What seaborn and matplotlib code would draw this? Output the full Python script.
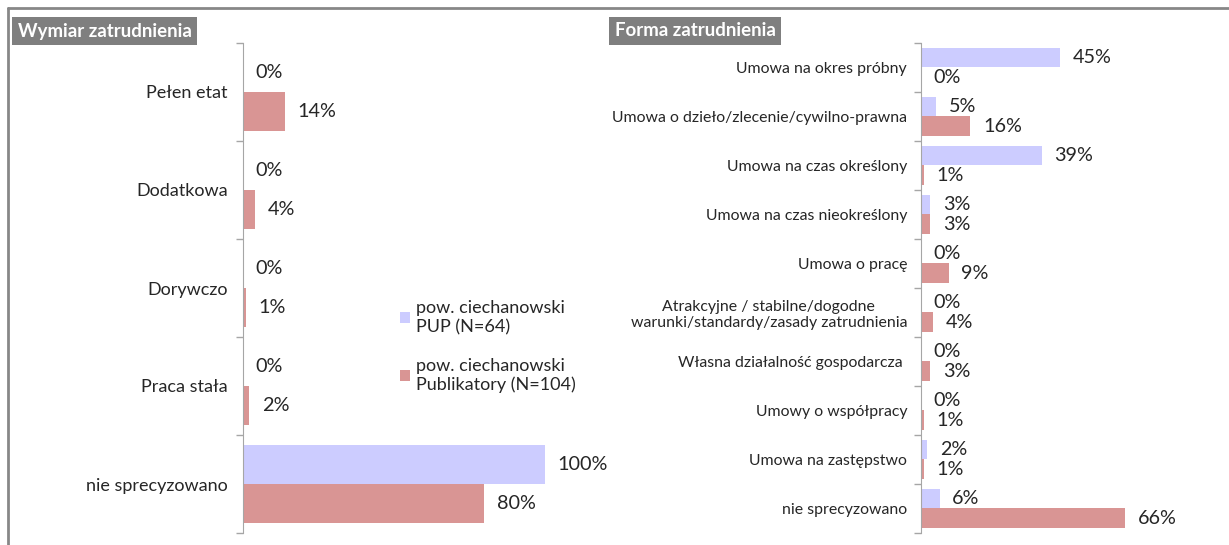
import matplotlib
matplotlib.use("Agg")
import matplotlib.pyplot as plt
from matplotlib.lines import Line2D
from matplotlib.patches import Patch
import seaborn as sns
import pandas as pd

# --- data ---
series = ["pow. ciechanowski\nPUP (N=64)", "pow. ciechanowski\nPublikatory (N=104)"]
colors = ["#CCCCFF", "#D99594"]

wymiar_cats = ["Pełen etat", "Dodatkowa", "Dorywczo", "Praca stała", "nie sprecyzowano"]
wymiar_pup = [0, 0, 0, 0, 100]
wymiar_pub = [14, 4, 1, 2, 80]

forma_cats = [
    "Umowa na okres próbny",
    "Umowa o dzieło/zlecenie/cywilno-prawna",
    "Umowa na czas określony",
    "Umowa na czas nieokreślony",
    "Umowa o pracę",
    "Atrakcyjne / stabilne/dogodne\nwarunki/standardy/zasady zatrudnienia",
    "Własna działalność gospodarcza ",
    "Umowy o współpracy",
    "Umowa na zastępstwo",
    "nie sprecyzowano",
]
forma_pup = [45, 5, 39, 3, 0, 0, 0, 0, 2, 6]
forma_pub = [0, 16, 1, 3, 9, 4, 3, 1, 1, 66]


def long_df(cats, a, b):
    rows = []
    for c, v in zip(cats, a):
        rows.append((c, series[0], v))
    for c, v in zip(cats, b):
        rows.append((c, series[1], v))
    return pd.DataFrame(rows, columns=["cat", "series", "val"])


sns.set_style("white")
plt.rcParams["font.family"] = ["Lato", "DejaVu Sans"]

fig = plt.figure(figsize=(12.29, 5.45), dpi=100)
W, H = 1229, 545
SPINE = "#A6A6A6"
TXT = "#262626"


def panel(rect, cats, a, b, xmax, lab_fs, val_fs, pad):
    ax = fig.add_axes(rect)
    df = long_df(cats, a, b)
    sns.barplot(data=df, y="cat", x="val", hue="series", orient="h",
                palette=colors, saturation=1, width=0.8, order=cats,
                hue_order=series, linewidth=0, ax=ax, legend=False)
    for cont in ax.containers:
        vals = cont.datavalues
        ax.bar_label(cont, labels=[f"{v:.0f}%" for v in vals], padding=9,
                     fontsize=val_fs, color=TXT)
    n = len(cats)
    ax.set_xlim(0, xmax)
    ax.set_ylim(n - 0.5, -0.5)
    ax.set_yticks(range(n))
    ax.set_yticklabels(cats, fontsize=lab_fs, color=TXT, multialignment="center")
    ax.set_yticks([i - 0.5 for i in range(n + 1)], minor=True)
    ax.tick_params(axis="y", which="major", length=0, pad=pad)
    ax.tick_params(axis="y", which="minor", length=5, width=1, color=SPINE,
                   direction="out", left=True)
    ax.set_xticks([])
    ax.set_xlabel("")
    ax.set_ylabel("")
    for s in ["top", "right", "bottom"]:
        ax.spines[s].set_visible(False)
    ax.spines["left"].set_color(SPINE)
    return ax


bottom = (H - 533) / H
height = 490 / H
panel([243 / W, bottom, 362 / W, height], wymiar_cats, wymiar_pup, wymiar_pub,
      120, 13, 14.3, 11)
panel([921 / W, bottom, 300 / W, height], forma_cats, forma_pup, forma_pub,
      97, 11.4, 14.2, 10)

# titles
for x, txt in [(18, "Wymiar zatrudnienia"), (615, "Forma zatrudnienia")]:
    fig.text(x / W, 1 - 31 / H, txt, fontsize=13.4, fontweight="bold", color="white",
             va="center", ha="left",
             bbox=dict(facecolor="#7F7F7F", edgecolor="none", boxstyle="square,pad=0.3"))

# legend
handles = [Patch(facecolor=c, edgecolor="none") for c in colors]
fig.legend(handles, series, loc="upper left", bbox_to_anchor=(384 / W, 1 - 284 / H),
           frameon=False, fontsize=13, handlelength=0.55, handleheight=0.55,
           handletextpad=0.35, labelspacing=1.25, labelcolor=TXT)

# outer frame
fig.add_artist(Line2D([8 / W, 8 / W], [0, 1 - 8 / H], color="#878787", lw=2,
                      transform=fig.transFigure))
fig.add_artist(Line2D([8 / W, 1], [1 - 8 / H, 1 - 8 / H], color="#878787", lw=2,
                      transform=fig.transFigure))

fig.savefig("out.png", dpi=100)
